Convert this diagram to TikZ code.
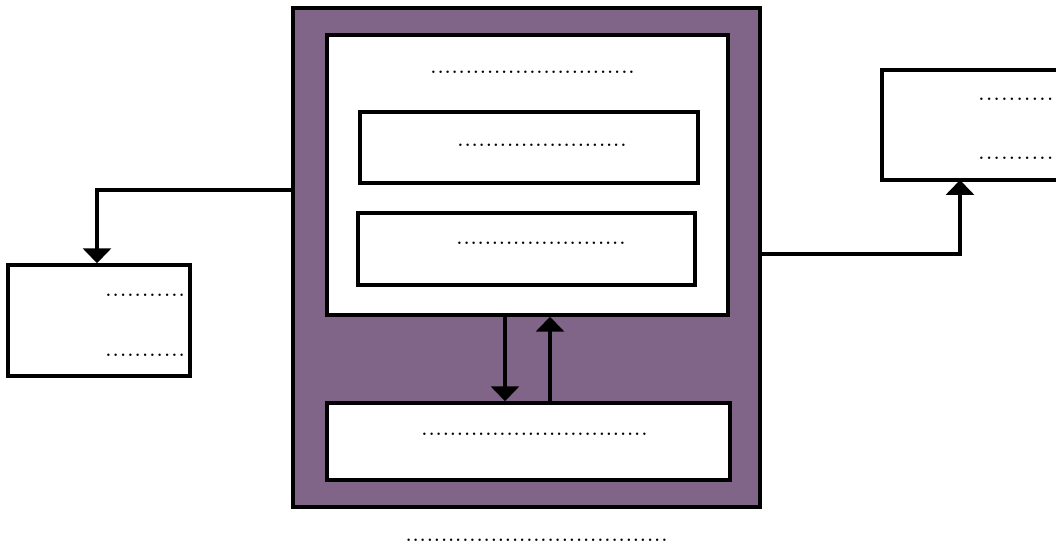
\documentclass[tikz,border=0pt]{standalone}
\usetikzlibrary{arrows, arrows.meta, positioning, calc}
\definecolor{frame}{RGB}{128,101,137}
\newcommand{\dotrow}[1]{\hbox to #1{\xleaders\hbox to 4pt{\hss.\hss}\hfill}}
\tikzset{%
	box/.style={draw, rectangle, line width=2pt, fill=white, inner sep=0pt},
	outer/.style={draw, rectangle, line width=2.2pt, fill=frame, inner sep=0pt},
	lbl/.style={inner sep=0pt, font=\small\bfseries},
	conn/.style={line width=2pt, -{Triangle[width=5.6mm, length=3mm]}}
}
\begin{document}
\begin{tikzpicture}[x=0.02cm, y=-0.02cm]
	\useasboundingbox (0,0) rectangle (1056,544);
	\clip (0,0) rectangle (1056,544);

	\node[outer, minimum width=9.34cm, minimum height=9.98cm] (frame) at (526.5,257.5) {};
	\node[box, minimum width=8.02cm, minimum height=5.6cm] (inner) at (527.5,175) {};
	\node[box, minimum width=6.76cm, minimum height=1.42cm] (boxa) at (529,147.5) {};
	\node[box, minimum width=6.74cm, minimum height=1.44cm] (boxb) at (526.5,249) {};
	\node[box, minimum width=8.06cm, minimum height=1.54cm] (bottom) at (528.5,441.5) {};
	\node[box, minimum width=3.64cm, minimum height=2.22cm] (left) at (99,320.5) {};
	\node[box, minimum width=3.96cm, minimum height=2.2cm] (right) at (981,125) {};

	% dotted labels
	\node[lbl] (ttop) at (532.5,72) {\dotrow{4.1cm}};
	\node[lbl] (ta) at (542,145) {\dotrow{3.4cm}};
	\node[lbl] (tb) at (541,243) {\dotrow{3.4cm}};
	\node[lbl] (tbot) at (534.5,434) {\dotrow{4.54cm}};
	\node[lbl, anchor=east] (tl1) at (186,295) {\dotrow{1.62cm}};
	\node[lbl, anchor=east] (tl2) at (186,355) {\dotrow{1.62cm}};
	\node[lbl, anchor=west] (tr1) at (977,99) {\dotrow{1.54cm}};
	\node[lbl, anchor=west] (tr2) at (977,158) {\dotrow{1.54cm}};
	\node[lbl] (caption) at (536.5,540) {\dotrow{5.26cm}};

	\coordinate (rtip) at (960,180);
	\draw[conn] (frame.west |- 0,190) -| (left.north -| 97,0);
	\draw[conn] (frame.east |- 0,254) -| (rtip);
	\draw[conn] (inner.south -| 505,0) -- (bottom.north -| 505,0);
	\draw[conn] (bottom.north -| 550,0) -- (inner.south -| 550,0);
\end{tikzpicture}
\end{document}
